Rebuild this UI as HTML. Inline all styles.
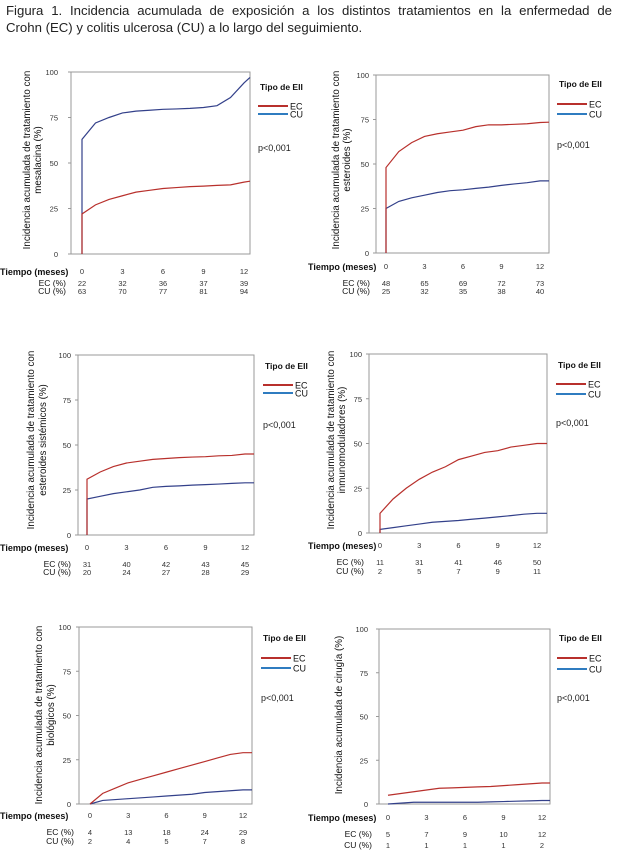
<!DOCTYPE html>
<html><head><meta charset="utf-8"><style>
body{margin:0;background:#fff;width:618px;height:867px;overflow:hidden;position:relative;font-family:"Liberation Sans",sans-serif}
#title{position:absolute;left:6px;top:2px;width:606px;font-size:13.2px;line-height:17px;color:#222}
#title .l1{text-align:justify;text-align-last:justify}
svg{position:absolute;left:0;top:0}
</style></head><body>
<div id="title"><div class="l1">Figura 1. Incidencia acumulada de exposición a los distintos tratamientos en la enfermedad de</div><div>Crohn (EC) y colitis ulcerosa (CU) a lo largo del seguimiento.</div></div>
<svg id="s" width="618" height="867"></svg>
<script>
const months=[0,1,2,3,4,5,6,7,8,9,10,11,12];
const yTicks=[0,25,50,75,100];
const xTicks=[0,3,6,9,12];
const ec1=[22,27,30,32,34,35,36,36.5,37,37.3,37.7,38,39.5];
const cu1=[63,72,75,77.5,78.5,79,79.5,79.7,80,80.5,81.5,86,94];
const ec2=[48,57,62,65.5,67,68,69,71,72,72,72.3,72.6,73.3];
const cu2=[25,29,31,32.5,34,35,35.5,36.3,37,38,38.8,39.5,40.5];
const ec3=[31,35,38,40,41,42,42.5,43,43.3,43.5,44,44.2,45];
const cu3=[20,21.5,23,24,25,26.5,27,27.3,27.7,28,28.3,28.7,29];
const ec4=[11,19,25,30,34,37,41,43,45,46,48,49,50];
const cu4=[2,3,4,5,6,6.5,7,7.7,8.3,9,9.7,10.5,11];
const ec5=[0,6,9,12,14,16,18,20,22,24,26,28,29];
const cu5=[0,2,2.5,3,3.5,4,4.5,5,5.5,6.5,7,7.5,8];
const ec6=[5,6,7,8,9,9.2,9.5,9.8,10,10.5,11,11.5,12];
const cu6=[0,0.5,1,1,1,1,1,1,1.2,1.4,1.6,1.8,2];
const ecEnd=[40,73.5,45,50,29,12];
const cuEnd=[97,40.5,29,11,8,2];
const ecTable1=[22,32,36,37,39], cuTable1=[63,70,77,81,94];
const ecTable2=[48,65,69,72,73], cuTable2=[25,32,35,38,40];
const ecTable3=[31,40,42,43,45], cuTable3=[20,24,27,28,29];
const ecTable4=[11,31,41,46,50], cuTable4=[2,5,7,9,11];
const ecTable5=[4,13,18,24,29], cuTable5=[2,4,5,7,8];
const ecTable6=[5,7,9,10,12], cuTable6=[1,1,1,1,2];
const titles=[["Incidencia acumulada de tratamiento con","mesalacina (%)"],["Incidencia acumulada de tratamiento con","esteroides (%)"],["Incidencia acumulada de tratamiento con","esteroides sistémicos (%)"],["Incidencia acumulada de tratamiento con","inmunomoduladores  (%)"],["Incidencia acumulada de tratamiento con","biológicos  (%)"],["Incidencia acumulada de cirugía (%)"]];
const ecs=[ec1,ec2,ec3,ec4,ec5,ec6], cus=[cu1,cu2,cu3,cu4,cu5,cu6];
const ecT=[ecTable1,ecTable2,ecTable3,ecTable4,ecTable5,ecTable6], cuT=[cuTable1,cuTable2,cuTable3,cuTable4,cuTable5,cuTable6];
const G=[
{L:71,R:250,T:72,B:254,x0:82,x12:244,lx:58,ty:271,ey:283,cy:291,gx:258,tpy:87,ely:106,cly:114,py:148,tx:[27,38],tcy:160,vert:true,tl:0},
{L:376,R:549,T:75,B:253,x0:386,x12:540,lx:369,ty:266,ey:283,cy:291,gx:557,tpy:84,ely:104,cly:114,py:145,tx:[336,347],tcy:160,vert:true,tl:308},
{L:78,R:254,T:355,B:535,x0:87,x12:245,lx:71,ty:547,ey:564,cy:572,gx:263,tpy:366,ely:385,cly:393,py:425,tx:[31,43],tcy:440,vert:true,tl:0},
{L:369,R:547,T:354,B:533,x0:380,x12:537,lx:362,ty:545,ey:562,cy:571,gx:556,tpy:365,ely:384,cly:394,py:423,tx:[331,342],tcy:440,vert:true,tl:308},
{L:79,R:252,T:627,B:804,x0:90,x12:243,lx:71,ty:815,ey:832,cy:841,gx:261,tpy:638,ely:658,cly:668,py:698,tx:[39,51],tcy:715,vert:false,tl:0},
{L:379,R:550,T:629,B:804,x0:388,x12:542,lx:368,ty:817,ey:834,cy:845,gx:557,tpy:638,ely:658,cly:669,py:698,tx:[339],tcy:715,vert:false,tl:308}];
const s=document.getElementById('s');const NS='http://www.w3.org/2000/svg';
function mk(t,a,p,txt){const e=document.createElementNS(NS,t);for(const k in a)e.setAttribute(k,a[k]);if(txt!==undefined)e.textContent=txt;p.appendChild(e);return e;}
G.forEach((g,i)=>{
 const grp=mk('g',{},s);
 
 
 const xs=m=>g.x0+(g.x12-g.x0)*m/12, ys=v=>g.B-(g.B-g.T)*v/100;
 const box=mk('rect',{x:g.L,y:g.T,width:g.R-g.L,height:g.B-g.T,fill:'none',stroke:'#999','stroke-width':1},grp);
 
 
 yTicks.forEach(v=>{const t=mk('text',{x:g.lx,y:ys(v)+3,'font-size':7.5,'text-anchor':'end',fill:'#333'},grp,v);
  
  
  mk('line',{x1:g.L-3,x2:g.L,y1:ys(v),y2:ys(v),stroke:'#999'},grp);});
 xTicks.forEach((v,k)=>{const t=mk('text',{x:xs(v),y:g.ty+3,'font-size':7.5,'text-anchor':'middle',fill:'#333'},grp,v);
  
  
  const a=mk('text',{x:xs(v),y:g.ey+3,'font-size':7.5,'text-anchor':'middle',fill:'#333'},grp,ecT[i][k]);
  
  
  const b=mk('text',{x:xs(v),y:g.cy+3,'font-size':7.5,'text-anchor':'middle',fill:'#333'},grp,cuT[i][k]);
  
  });
 const tl=mk('text',{x:g.tl,y:g.ty+4,'font-size':9,'font-weight':'bold',fill:'#111'},grp,'Tiempo (meses)');
 
 
 const e1=mk('text',{x:g.x0-16,y:g.ey+3,'font-size':8.5,'text-anchor':'end',fill:'#111'},grp,'EC (%)');
 
 
 const c1=mk('text',{x:g.x0-16,y:g.cy+3,'font-size':8.5,'text-anchor':'end',fill:'#111'},grp,'CU (%)');
 
 
 titles[i].forEach((ln,k)=>{const t=mk('text',{x:0,y:0,'font-size':9.8,'text-anchor':'middle',fill:'#111',transform:`translate(${g.tx[k]+3},${g.tcy}) rotate(-90)`},grp,ln);
  
  });
 [[cus[i],cuEnd[i],'#33408a','cu-line'],[ecs[i],ecEnd[i],'#b8302c','ec-line']].forEach(([d,end,c,n])=>{
  let p=g.vert?`M${xs(0)},${ys(0)} L${xs(0)},${ys(d[0])}`:`M${xs(0)},${ys(d[0])}`;
  d.forEach((v,k)=>{p+=` L${xs(months[k])},${ys(v)}`;});
  p+=` L${g.R},${ys(end)}`;
  const l=mk('path',{d:p,fill:'none',stroke:c,'stroke-width':1.2},grp);
  
  });
 const lt=mk('text',{x:g.gx+2,y:g.tpy+3,'font-size':8.5,'font-weight':'bold',fill:'#111'},grp,'Tipo de EII');
 
 
 [['EC',g.ely,'#b8302c'],['CU',g.cly,'#2f7cc0']].forEach(([n,y,c])=>{
  const le=mk('g',{},grp);
  
  
  mk('line',{x1:g.gx,x2:g.gx+30,y1:y,y2:y,stroke:c,'stroke-width':2},le);
  mk('text',{x:g.gx+32,y:y+3.5,'font-size':9,fill:'#111'},le,n);});
 const pv=mk('text',{x:g.gx,y:g.py+3,'font-size':9,fill:'#222'},grp,'p<0,001');
 
 
});
</script>
</body></html>
